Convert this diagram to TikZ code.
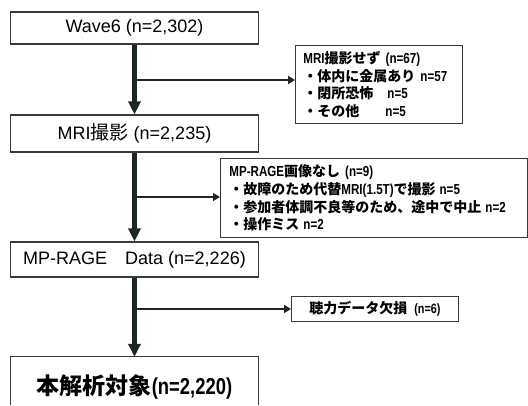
\documentclass[tikz,border=0pt]{standalone}
\usepackage{fontspec}
\setmainfont{Liberation Sans}
\newfontfamily\jpf{Noto Sans CJK JP}
\newfontfamily\nbf{Liberation Sans}[FakeStretch=0.8]
\newcommand\myJ[1]{{\jpf\fontsize{14}{17.6}\selectfont #1}}
\newcommand\myN[1]{{\nbf\fontsize{14.5}{17.6}\selectfont #1}}
\usetikzlibrary{arrows.meta}
\definecolor{arr}{HTML}{1C2626}
\definecolor{bord}{HTML}{3A3A3A}
\begin{document}
\begin{tikzpicture}[x=1pt,y=-1pt,
  mainbox/.style={draw=bord,line width=1.1pt,minimum width=248pt,inner sep=0pt,font=\fontsize{18}{20}\selectfont},
  sidebox/.style={draw=bord,line width=0.9pt,align=left,anchor=north west,inner ysep=0pt,font=\bfseries\fontsize{13}{17.6}\selectfont},
  mainarr/.style={draw=arr,line width=4.5pt,-{Triangle[width=12pt,length=13pt]}},
  sidearr/.style={draw=arr,line width=2pt,-{Triangle[width=8pt,length=7pt]}}]
\useasboundingbox (0,0) rectangle (528,405);

% main boxes
\node[mainbox,minimum height=32pt] (w6) at (134.5,28) {Wave6 (n=2,302)};
\node[mainbox,minimum height=37pt] (mri) at (134.5,133.5) {MRI{\jpf\fontsize{19}{20}\selectfont 撮影} (n=2,235)};
\node[mainbox,minimum height=35pt] (mp) at (134.5,259.5) {MP-RAGE\hspace{18pt}Data (n=2,226)};
\node[minimum width=248pt,minimum height=60pt,inner sep=0pt] (fin) at (134.5,387)
  {\bfseries{\jpf\fontsize{23}{24}\selectfont 本解析対象}{\nbf\fontsize{23}{24}\selectfont (n=2,220)}};
\draw[bord,line width=1.1pt] ([yshift=-48pt]fin.north west) -- (fin.north west) -- (fin.north east) -- ([yshift=-48pt]fin.north east);

% side boxes
\node[sidebox,text width=151pt,inner xsep=8pt,minimum height=78pt] (s1) at (295,45) {%
\myN{MRI}\myJ{撮影せず}\hspace{5pt}\myN{(n=67)}\\
\makebox[117pt][l]{\myJ{・体内に金属あり}}\myN{n=57}\\
\makebox[84pt][l]{\myJ{・閉所恐怖}}\myN{n=5}\\
\makebox[82pt][l]{\myJ{・その他}}\myN{n=5}};

\node[sidebox,text width=289pt,inner xsep=9pt,minimum height=79pt] (s2) at (220,158) {%
\myN{MP-RAGE}\myJ{画像なし}\hspace{5pt}\myN{(n=9)}\\
\myJ{・故障のため代替}\myN{MRI(1.5T)}\myJ{で撮影}\hspace{4pt}\myN{n=5}\\
\myJ{・参加者体調不良等のため、途中で中止}\hspace{4pt}\myN{n=2}\\
\myJ{・操作ミス}\hspace{4pt}\myN{n=2}};

\node[sidebox,align=center,inner xsep=0pt,minimum width=167pt,minimum height=25pt] (s3) at (291,296) {%
\myJ{聴力データ欠損}\hspace{7pt}{\nbf\fontsize{13.5}{14}\selectfont (n=6)}};

% branch arrows
\coordinate (c1) at (134.5,80);
\coordinate (c2) at (134.5,197);
\coordinate (c3) at (134.5,309);
\draw[sidearr] (c1) -- (c1 -| s1.west);
\draw[sidearr] (c2) -- (c2 -| s2.west);
\draw[sidearr] (c3) -- (c3 -| s3.west);

% main arrows
\draw[mainarr] (w6.south) -- (mri.north);
\draw[mainarr] (mri.south) -- (mp.north);
\draw[mainarr] (mp.south) -- (fin.north);
\end{tikzpicture}
\end{document}
